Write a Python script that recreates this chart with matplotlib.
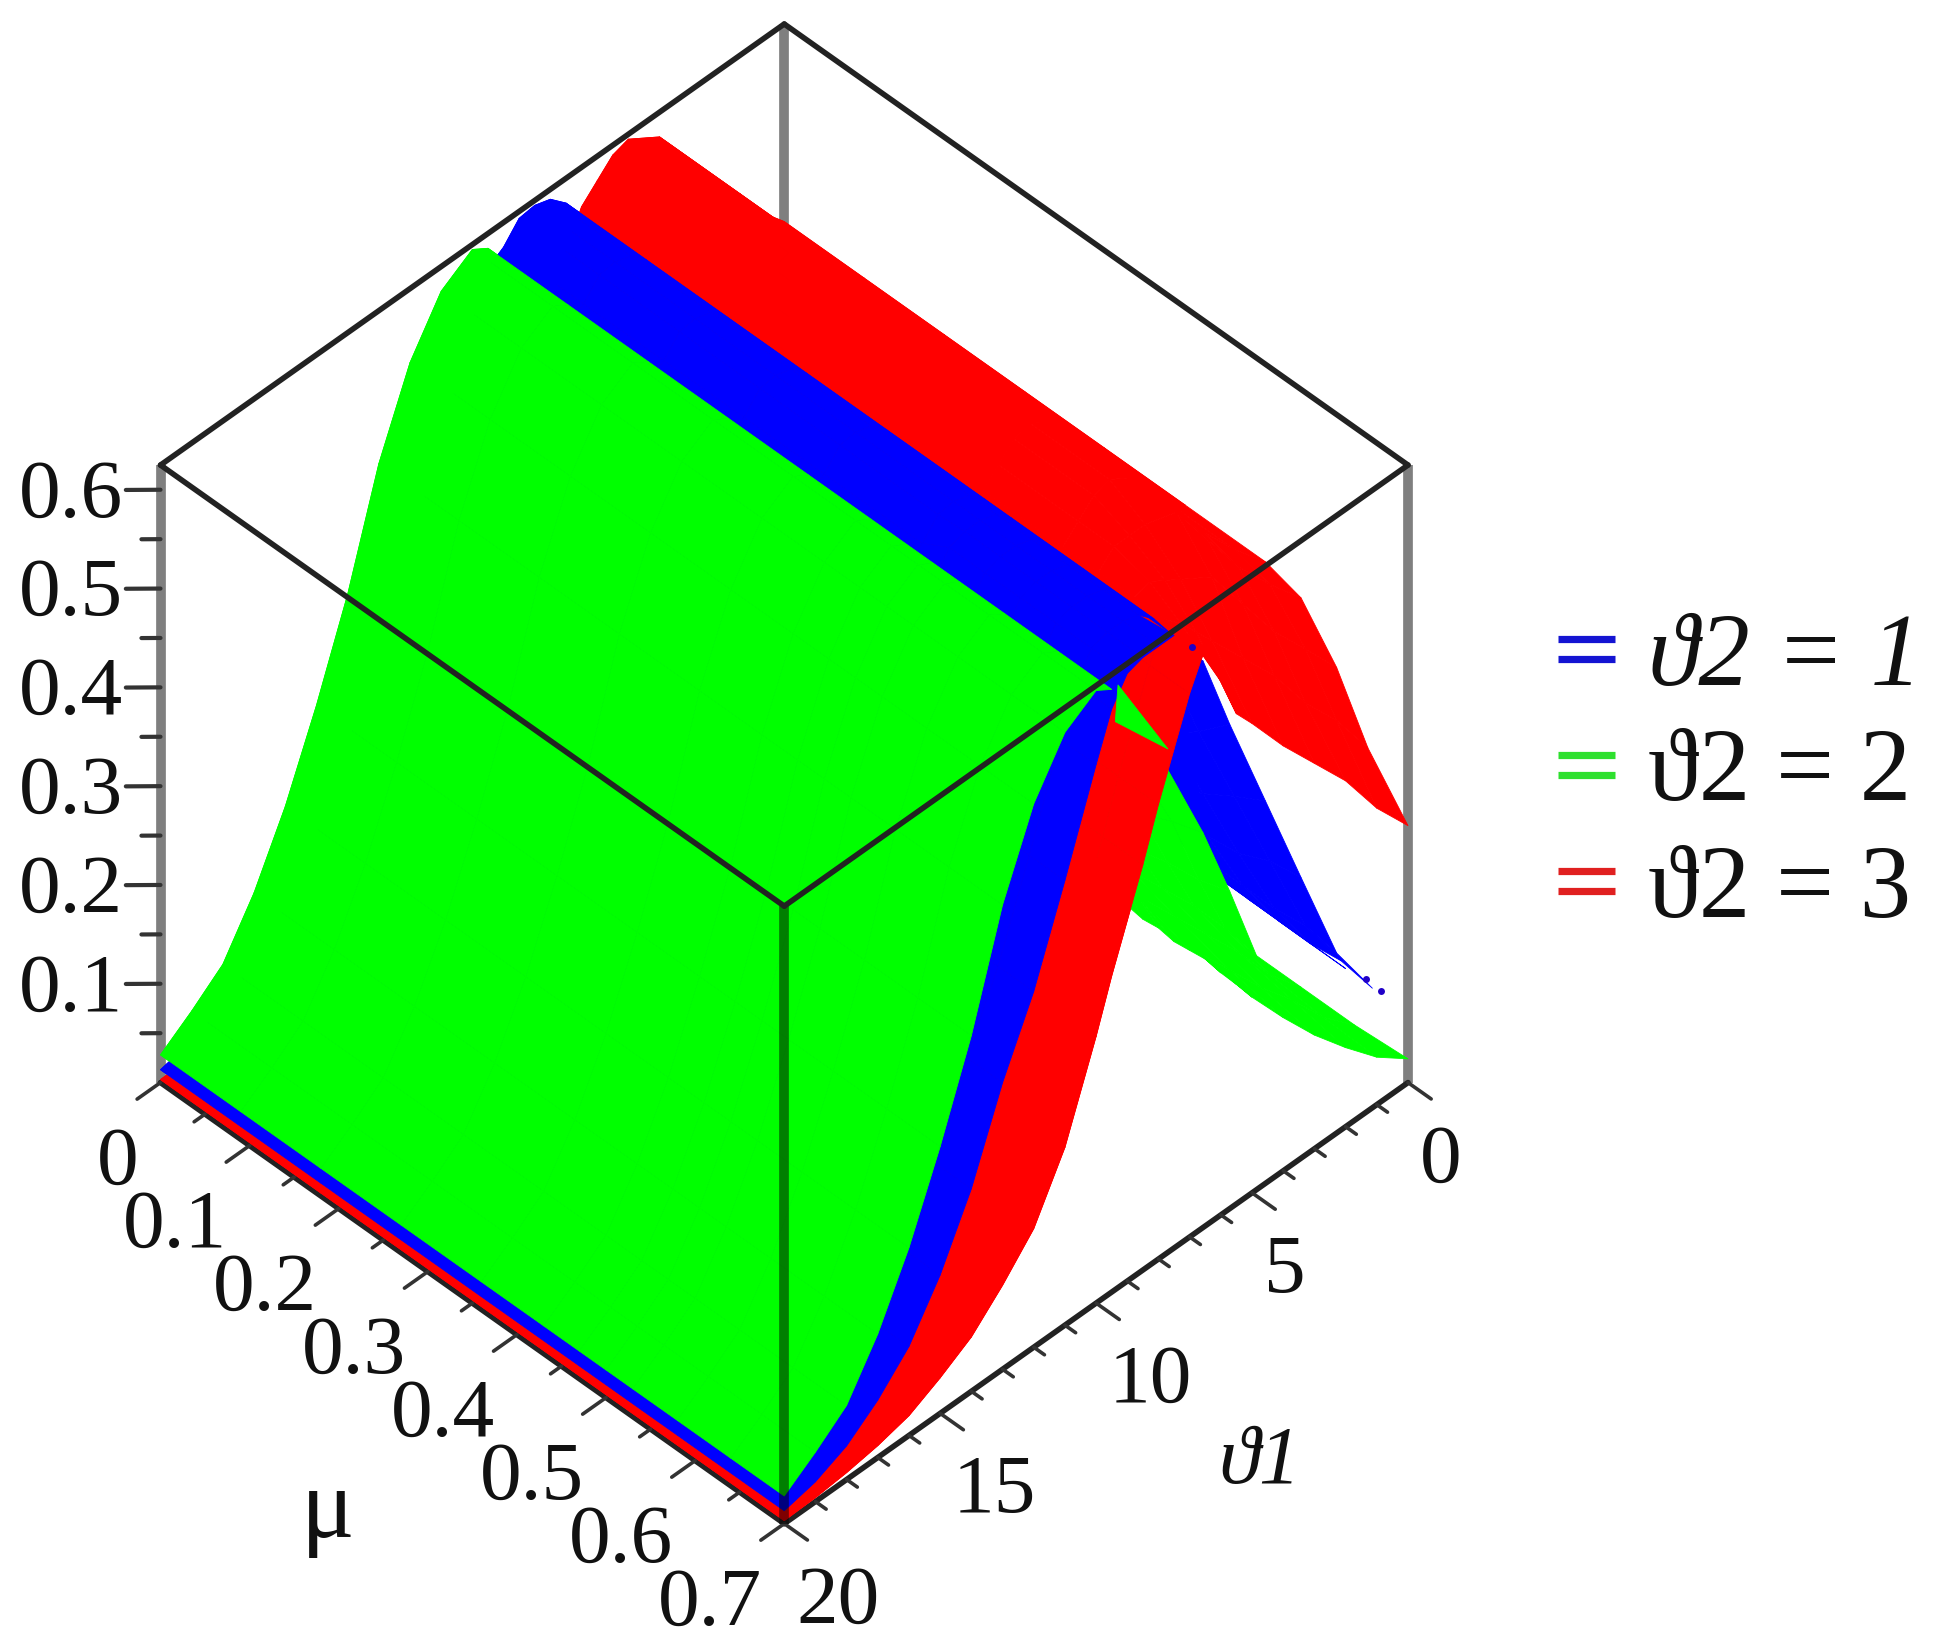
import numpy as np
import matplotlib
matplotlib.use('Agg')
import matplotlib.pyplot as plt
from matplotlib.lines import Line2D
from mpl_toolkits.mplot3d import proj3d
from mpl_toolkits.mplot3d.art3d import Poly3DCollection

# ---------- data ----------
theta_low = [0, 1, 2, 3, 4, 5, 5.5, 6, 6.5, 7, 7.5, 8, 8.5, 9, 9.5]
theta_high = [10, 11, 12, 13, 14, 15, 16, 17, 18, 19, 20]

# rising flank (theta >= 10)
green_high = [.62, .60, .55, .47, .36, .27, .19, .125, .075, .05, .028]
blue_high = [.545, .45, .36, .29, .205, .14, .09, .058, .034, .02, .013]
red_high = [.27, .18, .12, .085, .055, .036, .02, .012, .007, .004, .003]

# green (theta2 = 2), theta <= 9.5, row by row in mu
green_flat = [.20, .21, .23, .25, .27, .29, .31, .32, .35, .38, .42, .47, .52, .57, .61]
green_43 = [.145, .17, .20, .225, .25, .275, .295, .31, .34, .37, .41, .46, .51, .56, .61]
green_47 = [.106, .14, .17, .20, .23, .26, .28, .30, .33, .36, .40, .45, .50, .55, .61]
green_50 = [.066, .10, .14, .175, .21, .245, .27, .29, .32, .35, .39, .44, .49, .54, .61]
green_53 = [.02, .07, .115, .155, .195, .235, .26, .28, .31, .34, .38, .43, .48, .53, .61]
green_58 = [.02, .055, .10, .14, .18, .22, .245, .27, .30, .33, .37, .42, .47, .52, .61]
green_64 = [.02, .05, .09, .125, .165, .205, .23, .255, .285, .31, .34, .38, .42, .46, .61]
green_70 = [.024, .048, .08, .115, .155, .198, .222, .245, .27, .29, .31, .335, .355, .38, .61]
mu_green = [0, .09, .18, .27, .36, .43, .47, .50, .53, .58, .64, .70]
green_low = [green_flat] * 5 + [green_43, green_47, green_50, green_53, green_58, green_64, green_70]

# blue (theta2 = 1)
blue_flat = [.28, .29, .30, .32, .34, .38, .41, .44, .575, .60, .615, .62, .618, .60, .59]
blue_50 = [.235, .25, .27, .29, .32, .36, .39, .43, .575, .60, .615, .62, .62, .615, .59]
blue_54 = [.183, .21, .235, .265, .30, .34, .37, .41, .575, .60, .615, .62, .62, .615, .59]
blue_58 = [.131, .17, .20, .24, .28, .32, .35, .39, .575, .60, .615, .62, .62, .615, .59]
blue_62 = [.08, .13, .17, .215, .26, .305, .33, .37, .575, .60, .615, .62, .62, .615, .59]
blue_66 = [.07, .12, .16, .205, .25, .295, .32, .355, .575, .60, .615, .62, .62, .615, .59]
blue_70 = [np.nan, np.nan, .16, .205, .25, .295, .32, .345, .40, .47, .62, .62, .62, .615, .59]
mu_blue = [0, .09, .18, .27, .36, .47, .50, .54, .58, .62, .66, .70]
blue_low = [blue_flat] * 6 + [blue_50, blue_54, blue_58, blue_62, blue_66, blue_70]
blue_front_from = [6.5, 6.5, 6.5, 6.5, 6.5, 6.5, 6.5, 6.5, 6.5, 6.5, 7.5]

# red (theta2 = 3)
red_flat = [.425, .46, .50, .55, .60, .62, .615, .60, .585, .55, .505, .46, .41, .365, .32]
red_58 = [.414, .45, .49, .54, .59, .60, .60, .60, .585, .55, .505, .46, .41, .365, .32]
red_62 = [.369, .41, .45, .50, .55, .57, .58, .59, .585, .55, .505, .46, .41, .365, .32]
red_655 = [.31, .36, .40, .45, .49, .53, .55, .57, .585, .55, .505, .46, .41, .365, .32]
red_70 = [.26, .30, .35, .39, .43, .475, .496, .54, .585, .55, .505, .46, .41, .365, .32]
mu_red = [0, .09, .18, .27, .36, .45, .54, .58, .62, .655, .70]
red_low = [red_flat] * 7 + [red_58, red_62, red_655, red_70]
red_front_from = [0, 0, 0, 0, 0, 6.5, 6.5, 6.5, 6.5, 6.5]

green_front_from = [9.5] * 11

# small green sliver lying over the red band near the top front edge
patch_theta = [0, 0, 0]
patch_mu = [.374, .43, .371]
patch_z = [.195, .166, .156]

# isolated blue specks at the mu = 0.7 edge
speck_theta = [.87, 1.35, 6.93]
speck_mu = [.7, .7, .7]
speck_z = [.112, .135, .596]

z_ticks = [.1, .2, .3, .4, .5, .6]
z_minor = [.05, .15, .25, .35, .45, .55]
mu_ticks = [0, .1, .2, .3, .4, .5, .6, .7]
mu_minor = [.05, .15, .25, .35, .45, .55, .65]
theta_ticks = [0, 5, 10, 15, 20]
theta_minor = [1, 2, 3, 4, 6, 7, 8, 9, 11, 12, 13, 14, 16, 17, 18, 19]
legend_labels = ['ϑ2 = 1', 'ϑ2 = 2', 'ϑ2 = 3']
legend_colors = ['#1414d2', '#2ee02e', '#e02020']

T_MAX, MU_MAX, Z_LO, Z_HI = 20, .7, 0, .625
SERIF = ['Liberation Serif', 'DejaVu Serif']
RED, BLUE, GREEN = '#ff0000', '#0000ff', '#00ff00'

# ---------- figure and 3-D axes ----------
W, H = 1934, 1649
fig = plt.figure(figsize=(W / 100, H / 100), dpi=100, facecolor='white')
ax = fig.add_axes([0, 0, 1600 / W, 1600 / H], projection='3d', proj_type='ortho', facecolor='none')
ax.view_init(elev=45, azim=45)
ax.set_box_aspect((1, 1, .99))
ax.set_xlim(0, T_MAX)
ax.set_ylim(0, MU_MAX)
ax.set_zlim(Z_LO, Z_HI)
ax.set_axis_off()
ax.computed_zorder = False


def to_px(x, y, z):
    a, b, _ = proj3d.proj_transform(x, y, z, ax.get_proj())
    return ax.transData.transform((a, b))


left = to_px(T_MAX, 0, Z_LO)
right = to_px(0, MU_MAX, Z_LO)
size = 1600 * (1408 - 160.5) / (right[0] - left[0])
ax.set_position([0, 0, size / W, size / H])
left = to_px(T_MAX, 0, Z_LO)
top = to_px(0, 0, Z_HI)
ax.set_position([(160.5 - left[0]) / W, ((H - 25) - top[1]) / H, size / W, size / H])

# ---------- surfaces: fixed layer order, back flanks first, then front flanks ----------
theta = np.array(theta_low + theta_high, float)


def add_sheet(mu_rows, low, high, colour, order, start=None):
    table = np.array([row + high for row in low], float)
    quads = []
    for i in range(len(mu_rows) - 1):
        for j in range(len(theta) - 1):
            if start is not None and theta[j] < start[i]:
                continue
            c = [(theta[j], mu_rows[i], table[i, j]),
                 (theta[j + 1], mu_rows[i], table[i, j + 1]),
                 (theta[j + 1], mu_rows[i + 1], table[i + 1, j + 1]),
                 (theta[j], mu_rows[i + 1], table[i + 1, j])]
            if np.isnan([p[2] for p in c]).any():
                continue
            quads.append(c)
    coll = Poly3DCollection(quads, facecolors=colour, edgecolors=colour, linewidths=.6,
                            zsort='average')
    coll.set_joinstyle('round')
    coll.set_zorder(order)
    coll.set_clip_on(False)
    ax.add_collection3d(coll)


add_sheet(mu_red, red_low, red_high, RED, 2.0)
add_sheet(mu_blue, blue_low, blue_high, BLUE, 2.1)
add_sheet(mu_green, green_low, green_high, GREEN, 2.2)
add_sheet(mu_red, red_low, red_high, RED, 2.3, red_front_from)
add_sheet(mu_blue, blue_low, blue_high, BLUE, 2.4, blue_front_from)
add_sheet(mu_green, green_low, green_high, GREEN, 2.5, green_front_from)

sliver = Poly3DCollection([list(zip(patch_theta, patch_mu, patch_z))], facecolors=GREEN,
                          edgecolors=GREEN, linewidths=.6)
sliver.set_zorder(2.6)
sliver.set_clip_on(False)
ax.add_collection3d(sliver)

ax.plot(speck_theta, speck_mu, speck_z, ls='none', marker='o', ms=5, color='#2000c8',
        mew=0, zorder=2.7, clip_on=False)

# ---------- box ----------
BK = dict(color='#222222', lw=4.0, solid_capstyle='round', clip_on=False)
GR = dict(color='black', alpha=.5, lw=7, solid_capstyle='butt', clip_on=False)
# back edges and verticals behind the surface
ax.plot([0, 0], [0, 0], [Z_LO, Z_HI], zorder=1, **GR)
ax.plot([T_MAX, T_MAX], [0, 0], [Z_LO, Z_HI], zorder=1, **GR)
ax.plot([0, 0], [MU_MAX, MU_MAX], [Z_LO, Z_HI], zorder=1, **GR)
ax.plot([T_MAX, 0], [0, 0], [Z_HI, Z_HI], zorder=1, **BK)
ax.plot([0, 0], [0, MU_MAX], [Z_HI, Z_HI], zorder=1, **BK)
ax.plot([T_MAX, T_MAX], [0, MU_MAX], [Z_LO, Z_LO], zorder=1, **BK)
ax.plot([T_MAX, 0], [MU_MAX, MU_MAX], [Z_LO, Z_LO], zorder=1, **BK)
# front edges over the surface
ax.plot([T_MAX, T_MAX], [MU_MAX, MU_MAX], [Z_LO, Z_HI], zorder=3, **GR)
ax.plot([T_MAX, T_MAX], [0, MU_MAX], [Z_HI, Z_HI], zorder=3, **BK)
ax.plot([T_MAX, 0], [MU_MAX, MU_MAX], [Z_HI, Z_HI], zorder=3, **BK)

# ---------- ticks ----------
TK = dict(color='#333333', solid_capstyle='round', zorder=1, clip_on=False)
for v, length, lw in [(v, 1, 3.0) for v in z_ticks] + [(v, .55, 3.0) for v in z_minor]:
    ax.plot([T_MAX, T_MAX + .56 * length], [0, -.0193 * length], [v, v], **TK, lw=lw)
for v, length, lw in [(v, .75, 2.6) for v in mu_ticks] + [(v, .35, 2.6) for v in mu_minor]:
    ax.plot([T_MAX, T_MAX + length], [v, v], [Z_LO, Z_LO], **TK, lw=lw)
for v, length, lw in [(v, .026, 2.6) for v in theta_ticks] + [(v, .012, 2.6) for v in theta_minor]:
    ax.plot([v, v], [MU_MAX, MU_MAX + length], [Z_LO, Z_LO], **TK, lw=lw)

# ---------- tick labels, placed from the projected tick position ----------
TXT = dict(family=SERIF, fontsize=60, color='#111111')


def tick_label(x, y, z, s, dx, dy, ha):
    px, py = to_px(x, y, z)
    fig.text((px + dx) / W, (py + dy) / H, s, ha=ha, va='center', **TXT)


for v in z_ticks:
    tick_label(T_MAX, 0, v, f'{v:g}', -37, -6, 'right')
for v in mu_ticks:
    tick_label(T_MAX, v, Z_LO, f'{v:g}', -22, -80, 'right')
for v in theta_ticks:
    tick_label(v, MU_MAX, Z_LO, f'{v:g}', 12, -78, 'left')

# ---------- axis titles ----------
DW, DH = 1566, 1335
fig.text(265 / DW, 1 - 1225 / DH, 'μ', ha='center', va='center', **{**TXT, 'fontsize': 72})
fig.text(1020 / DW, 1 - 1185 / DH, 'ϑ1', ha='center', va='center', style='italic', **TXT)

# ---------- legend ----------
for k, (lab, col) in enumerate(zip(legend_labels, legend_colors)):
    y0 = [640, 756, 872][k]
    for off in (0, 20):
        fig.add_artist(Line2D([1558 / W, 1615 / W], [1 - (y0 + off) / H] * 2, color=col, lw=5.2,
                              solid_capstyle='butt'))
    fig.text(1648 / W, 1 - [685, 800, 917][k] / H, lab, ha='left', va='baseline', family=SERIF,
             fontsize=74, color='#111111', style='italic' if k == 0 else 'normal')

fig.savefig('out.png', dpi=100, facecolor='white')
